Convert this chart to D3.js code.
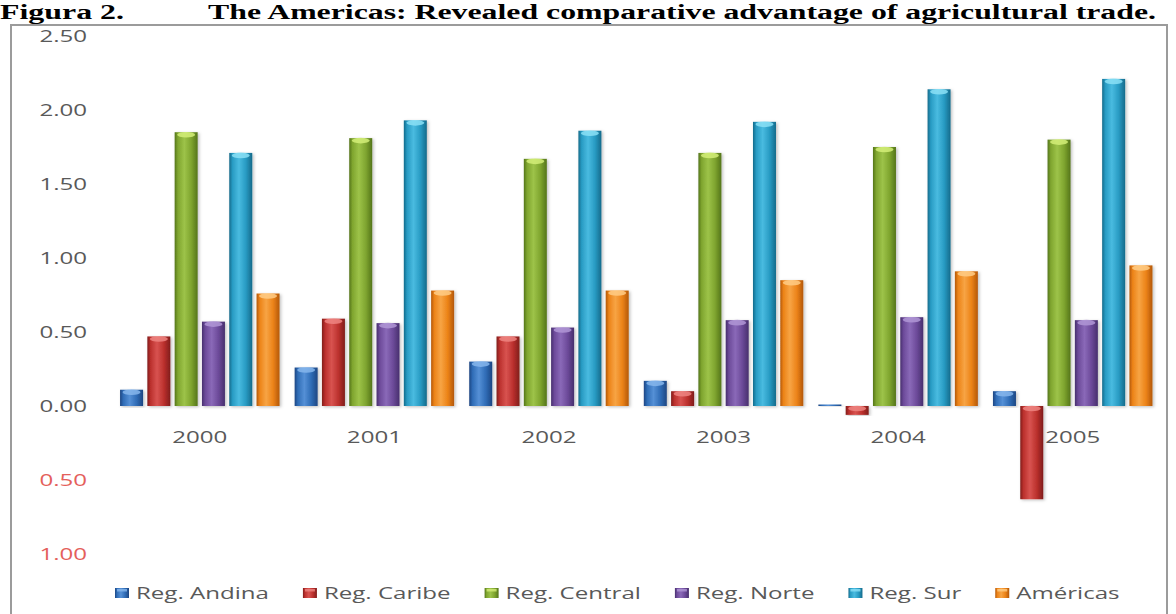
<!DOCTYPE html>
<html>
<head>
<meta charset="utf-8">
<script src="https://cdn.jsdelivr.net/npm/d3@7"></script>
<style>
html, body { margin: 0; padding: 0; background: #fff; overflow: hidden; }
svg { display: block; }
</style>
</head>
<body>
<svg id="chart" width="1176" height="614"></svg>
<script>
// Revealed comparative advantage of agricultural trade, by region and year
const years = ["2000", "2001", "2002", "2003", "2004", "2005"];
const seriesNames = ["Reg. Andina", "Reg. Caribe", "Reg. Central", "Reg. Norte", "Reg. Sur", "Américas"];
const regAndina  = [0.11, 0.26, 0.30, 0.17, 0.01, 0.10];
const regCaribe  = [0.47, 0.59, 0.47, 0.10, -0.06, -0.63];
const regCentral = [1.85, 1.81, 1.67, 1.71, 1.75, 1.80];
const regNorte   = [0.57, 0.56, 0.53, 0.58, 0.60, 0.58];
const regSur     = [1.71, 1.93, 1.86, 1.92, 2.14, 2.21];
const americas   = [0.76, 0.78, 0.78, 0.85, 0.91, 0.95];
const yTicks = [-1, -0.5, 0, 0.5, 1, 1.5, 2, 2.5];

const series = [regAndina, regCaribe, regCentral, regNorte, regSur, americas];

// shading palette per series: edge, body, highlight, top cap
const palette = [
  { dark: "#1d4682", mid: "#2f6cb6", light: "#5590d6", cap: "#86b6ec" },
  { dark: "#801d1b", mid: "#bb302d", light: "#d85350", cap: "#ee8581" },
  { dark: "#54751a", mid: "#7fa52f", light: "#9dc349", cap: "#d4ee78" },
  { dark: "#472f6d", mid: "#6c4a99", light: "#8a69b8", cap: "#b097d6" },
  { dark: "#156b8b", mid: "#289bc3", light: "#49bbe0", cap: "#8be0f6" },
  { dark: "#b45808", mid: "#ec8318", light: "#f7a444", cap: "#ffcd86" }
];

const TEXT_STRETCH = 1.46;
const LABEL_SIZE = 16.5;
const labelFont = "'Open Sans', 'DejaVu Sans', sans-serif";
const labelColor = "#595959";

const svg = d3.select("#chart");
const defs = svg.append("defs");

palette.forEach((p, i) => {
  const g = defs.append("linearGradient").attr("id", "bar" + i)
    .attr("x1", "0%").attr("x2", "100%").attr("y1", "0%").attr("y2", "0%");
  [[0, p.dark], [0.14, p.mid], [0.42, p.light], [0.72, p.mid], [1, p.dark]]
    .forEach(([o, c]) => g.append("stop").attr("offset", o).attr("stop-color", c));
});

const shadow = defs.append("filter").attr("id", "barShadow")
  .attr("x", "-30%").attr("y", "-10%").attr("width", "160%").attr("height", "120%");
shadow.append("feDropShadow").attr("dx", 1.5).attr("dy", 1).attr("stdDeviation", 1.6)
  .attr("flood-color", "#000").attr("flood-opacity", 0.25);

const soft = defs.append("filter").attr("id", "soft");
soft.append("feGaussianBlur").attr("stdDeviation", 0.35);

// chart frame
svg.append("rect")
  .attr("x", 11).attr("y", 25).attr("width", 1156).attr("height", 620)
  .attr("fill", "#fff").attr("stroke", "#9b9b9b").attr("stroke-width", 2);

// figure caption
const serif = "'Liberation Serif', 'Times New Roman', serif";
svg.append("text")
  .attr("x", 0).attr("y", 19)
  .attr("font-family", serif).attr("font-weight", "bold").attr("font-size", 20)
  .attr("textLength", 124).attr("lengthAdjust", "spacingAndGlyphs")
  .attr("fill", "#000")
  .text("Figura 2.");
svg.append("text")
  .attr("x", 208).attr("y", 19)
  .attr("font-family", serif).attr("font-weight", "bold").attr("font-size", 20)
  .attr("textLength", 948).attr("lengthAdjust", "spacingAndGlyphs")
  .attr("fill", "#000")
  .text("The Americas: Revealed comparative advantage of agricultural trade.");

// scales
const plotLeft = 112.5, plotRight = 1160;
const x0 = d3.scaleBand().domain(years).range([plotLeft, plotRight])
  .paddingInner(0.0865).paddingOuter(0.0433);
const x1 = d3.scaleBand().domain(d3.range(series.length)).range([0, x0.bandwidth()])
  .paddingInner(0.1575);
const y = d3.scaleLinear().domain([-1, 2.5]).range([554, 36]);

// horizontal gridlines
const grid = svg.append("g")
  .attr("transform", `translate(${plotLeft},0)`)
  .call(d3.axisLeft(y).tickValues(yTicks).tickSize(-(plotRight - plotLeft)).tickFormat(""));
grid.select(".domain").remove();
grid.selectAll("line").attr("stroke", "#c6c6c6").attr("stroke-width", 1.7).attr("filter", "url(#soft)");

// value axis labels (negatives shown in red without sign)
const yAxis = svg.append("g")
  .attr("transform", "translate(87,0)")
  .call(d3.axisLeft(y).tickValues(yTicks).tickSize(0).tickPadding(0)
    .tickFormat(d => Math.abs(d).toFixed(2)));
yAxis.select(".domain").remove();
yAxis.attr("font-family", labelFont).attr("font-size", LABEL_SIZE);
yAxis.selectAll("text")
  .attr("x", 0)
  .attr("transform", `scale(${TEXT_STRETCH},1)`)
  .attr("fill", d => d < 0 ? "#e4605b" : labelColor);

// category axis labels
const xAxis = svg.append("g")
  .attr("transform", `translate(0,${y(0)})`)
  .call(d3.axisBottom(x0).tickSize(0).tickPadding(25));
xAxis.select(".domain").remove();
xAxis.attr("font-family", labelFont).attr("font-size", LABEL_SIZE);
xAxis.selectAll("text")
  .attr("transform", `scale(${TEXT_STRETCH},1)`)
  .attr("fill", labelColor);

// bars
const groups = svg.append("g").selectAll("g")
  .data(years)
  .join("g")
  .attr("transform", d => `translate(${x0(d)},0)`);

const cells = groups.selectAll("g.bar")
  .data((d, j) => series.map((s, i) => ({ i, v: s[j] })))
  .join("g").attr("class", "bar");

cells.append("rect")
  .attr("x", d => x1(d.i))
  .attr("y", d => y(Math.max(0, d.v)))
  .attr("width", x1.bandwidth())
  .attr("height", d => Math.abs(y(d.v) - y(0)))
  .attr("fill", d => `url(#bar${d.i})`)
  .attr("filter", "url(#barShadow)");

cells.filter(d => Math.abs(y(d.v) - y(0)) > 4)
  .append("ellipse")
  .attr("cx", d => x1(d.i) + x1.bandwidth() / 2)
  .attr("cy", d => y(Math.max(0, d.v)) + 2.5)
  .attr("rx", x1.bandwidth() / 2 - 2.5)
  .attr("ry", 2.8)
  .attr("fill", d => palette[d.i].cap)
  .attr("opacity", 0.85);

// legend
const legend = svg.append("g").attr("transform", "translate(0,593)");
let lx = 115;
seriesNames.forEach((name, i) => {
  const item = legend.append("g").attr("transform", `translate(${lx},0)`);
  item.append("rect")
    .attr("x", 0).attr("y", -5).attr("width", 14).attr("height", 10)
    .attr("fill", `url(#bar${i})`);
  item.append("rect")
    .attr("x", 2).attr("y", -4).attr("width", 10).attr("height", 2.5)
    .attr("fill", palette[i].cap).attr("opacity", 0.8);
  const t = item.append("text")
    .attr("x", 0).attr("y", 0).attr("dy", "0.35em")
    .attr("transform", `translate(21,0) scale(${TEXT_STRETCH},1)`)
    .attr("font-family", labelFont).attr("font-size", LABEL_SIZE)
    .attr("fill", labelColor)
    .text(name);
  const w = t.node().getComputedTextLength() * TEXT_STRETCH;
  lx += 21 + w + 34;
});
</script>
</body>
</html>
